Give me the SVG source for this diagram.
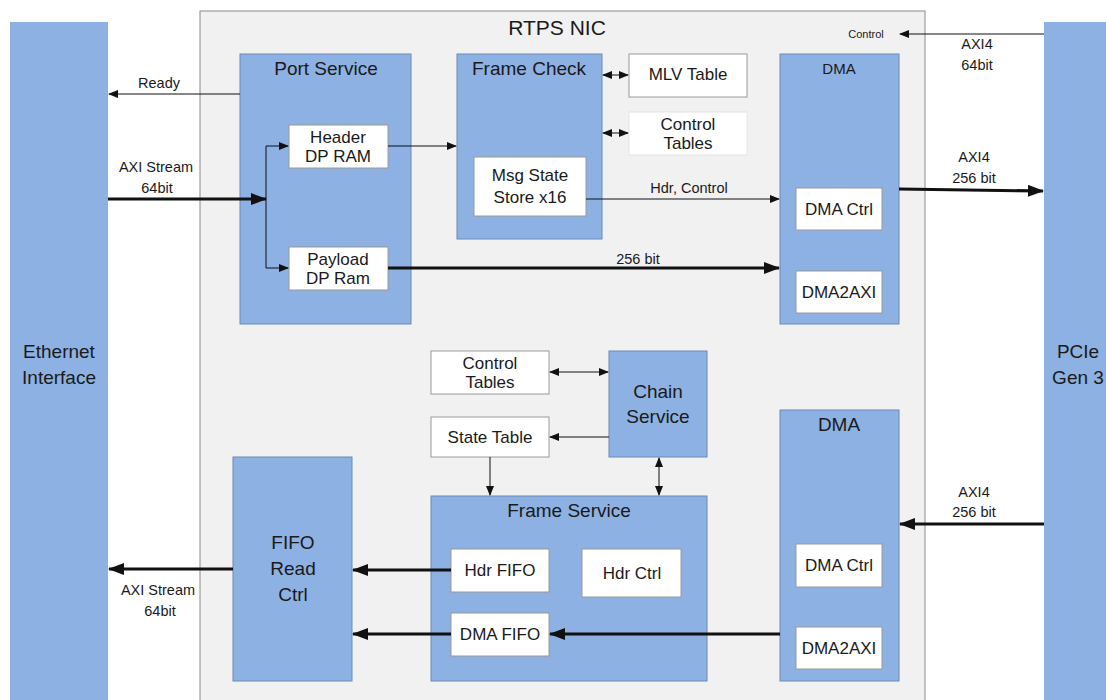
<svg xmlns="http://www.w3.org/2000/svg" width="1106" height="700" viewBox="0 0 1106 700">
<style>
text{font-family:"Liberation Sans",Arial,sans-serif;fill:#1a1a1a;text-anchor:middle}
.bar{fill:#8db1e2}
.blue{fill:#8db1e2;stroke:#6a8ab8;stroke-width:1}
.white{fill:#fff;stroke:#9a9a9a;stroke-width:1}
.nic{fill:#f1f1f1;stroke:#8a8a8a;stroke-width:1}
.t{font-size:19px}
.b{font-size:17px}
.e{font-size:14.5px}
.thin{stroke:#111;stroke-width:1;fill:none}
.thick{stroke:#111;stroke-width:3;fill:none}
</style>
<defs>
<marker id="a" markerWidth="10" markerHeight="8" refX="9" refY="4" orient="auto" markerUnits="userSpaceOnUse"><path d="M0,0 L10,4 L0,8 z" fill="#111"/></marker>
<marker id="as" markerWidth="10" markerHeight="8" refX="1" refY="4" orient="auto" markerUnits="userSpaceOnUse"><path d="M10,0 L0,4 L10,8 z" fill="#111"/></marker>
<marker id="A" markerWidth="16" markerHeight="12" refX="15" refY="6" orient="auto" markerUnits="userSpaceOnUse"><path d="M0,0 L16,6 L0,12 z" fill="#111"/></marker>
</defs>
<rect width="1106" height="700" fill="#fff"/>
<g id="rtps-nic"><rect class="nic" x="200" y="11" width="725" height="700"/><text x="557" y="35" style="font-size:21px">RTPS NIC</text></g>
<g id="ethernet"><rect class="bar" x="10" y="22" width="98" height="690"/><text x="59" y="358" style="font-size:19px">Ethernet</text><text x="59" y="384" style="font-size:19px">Interface</text></g>
<g id="pcie"><rect class="bar" x="1044" y="22" width="70" height="690"/><text x="1078" y="358" style="font-size:19px">PCIe</text><text x="1078" y="384" style="font-size:19px">Gen 3</text></g>
<g id="port-service"><rect class="blue" x="240" y="54" width="171" height="270"/><text class="t" x="326" y="75">Port Service</text></g>
<g id="header-dp-ram"><rect class="white" x="289" y="125" width="99" height="43"/><text class="b" x="338" y="143">Header</text><text class="b" x="338" y="162">DP RAM</text></g>
<g id="payload-dp-ram"><rect class="white" x="289" y="247" width="99" height="43"/><text class="b" x="338" y="265">Payload</text><text class="b" x="338" y="284">DP Ram</text></g>
<g id="frame-check"><rect class="blue" x="457" y="54" width="145" height="185"/><text class="t" x="529" y="75">Frame Check</text></g>
<g id="msg-state-store"><rect class="white" x="474" y="157" width="112" height="59"/><text class="b" x="530" y="181">Msg State</text><text class="b" x="530" y="203">Store x16</text></g>
<g id="mlv-table"><rect class="white" x="629" y="54" width="118" height="43"/><text class="b" x="688" y="80">MLV Table</text></g>
<g id="control-tables-top"><rect x="629" y="112" width="118" height="43" fill="#fff" stroke="#e4e4e4"/><text class="b" x="688" y="130">Control</text><text class="b" x="688" y="149">Tables</text></g>
<g id="dma-top"><rect class="blue" x="780" y="54" width="119" height="270"/><text x="839" y="74" style="font-size:15px">DMA</text></g>
<g id="dma-ctrl-top"><rect class="white" x="796" y="188" width="86" height="42"/><text class="b" x="839" y="215">DMA Ctrl</text></g>
<g id="dma2axi-top"><rect class="white" x="796" y="271" width="86" height="42"/><text class="b" x="839" y="298">DMA2AXI</text></g>
<g id="control-tables-bottom"><rect class="white" x="431" y="351" width="118" height="43"/><text class="b" x="490" y="369">Control</text><text class="b" x="490" y="388">Tables</text></g>
<g id="state-table"><rect class="white" x="431" y="417" width="118" height="40"/><text class="b" x="490" y="443">State Table</text></g>
<g id="chain-service"><rect class="blue" x="609" y="351" width="98" height="106"/><text class="t" x="658" y="398">Chain</text><text class="t" x="658" y="423">Service</text></g>
<g id="frame-service"><rect class="blue" x="431" y="496" width="276" height="185"/><text class="t" x="569" y="517">Frame Service</text></g>
<g id="hdr-fifo"><rect class="white" x="451" y="549" width="98" height="43"/><text class="b" x="500" y="576">Hdr FIFO</text></g>
<g id="hdr-ctrl"><rect class="white" x="582" y="549" width="99" height="48"/><text class="b" x="632" y="579">Hdr Ctrl</text></g>
<g id="dma-fifo"><rect class="white" x="451" y="613" width="98" height="43"/><text class="b" x="500" y="640">DMA FIFO</text></g>
<g id="fifo-read-ctrl"><rect class="blue" x="233" y="457" width="119" height="224"/><text class="t" x="293" y="549">FIFO</text><text class="t" x="293" y="575">Read</text><text class="t" x="293" y="601">Ctrl</text></g>
<g id="dma-bottom"><rect class="blue" x="780" y="410" width="119" height="271"/><text class="t" x="839" y="431">DMA</text></g>
<g id="dma-ctrl-bottom"><rect class="white" x="796" y="544" width="86" height="43"/><text class="b" x="839" y="571">DMA Ctrl</text></g>
<g id="dma2axi-bottom"><rect class="white" x="796" y="627" width="86" height="42"/><text class="b" x="839" y="654">DMA2AXI</text></g>
<g id="connectors">
<line class="thin" x1="240" y1="94" x2="109" y2="94" marker-end="url(#a)"/>
<text class="e" x="159" y="88">Ready</text>
<line class="thick" x1="108" y1="199" x2="266" y2="199" marker-end="url(#A)"/>
<text class="e" x="156" y="172">AXI Stream</text><text class="e" x="157" y="193">64bit</text>
<path class="thin" d="M266,268 V146 H288" marker-end="url(#a)"/>
<line class="thin" x1="266" y1="268" x2="288" y2="268" marker-end="url(#a)"/>
<line class="thin" x1="388" y1="146" x2="456" y2="146" marker-end="url(#a)"/>
<line class="thin" x1="603" y1="75" x2="628" y2="75" marker-start="url(#as)" marker-end="url(#a)"/>
<line class="thin" x1="603" y1="133" x2="628" y2="133" marker-start="url(#as)" marker-end="url(#a)"/>
<line class="thin" x1="586" y1="199" x2="779" y2="199" marker-end="url(#a)"/>
<text class="e" x="689" y="193">Hdr, Control</text>
<line class="thick" x1="388" y1="268" x2="779" y2="268" marker-end="url(#A)"/>
<text class="e" x="638" y="264">256 bit</text>
<line class="thin" x1="1044" y1="34" x2="900" y2="34" marker-end="url(#a)"/>
<text x="866" y="38" style="font-size:11px">Control</text>
<text class="e" x="977" y="49">AXI4</text><text class="e" x="977" y="70">64bit</text>
<line class="thick" x1="899" y1="189" x2="1043" y2="191" marker-end="url(#A)"/>
<text class="e" x="974" y="162">AXI4</text><text class="e" x="974" y="183">256 bit</text>
<line class="thin" x1="550" y1="372" x2="608" y2="372" marker-start="url(#as)" marker-end="url(#a)"/>
<line class="thin" x1="609" y1="437" x2="550" y2="437" marker-end="url(#a)"/>
<line class="thin" x1="490" y1="457" x2="490" y2="495" marker-end="url(#a)"/>
<line class="thin" x1="659" y1="458" x2="659" y2="495" marker-start="url(#as)" marker-end="url(#a)"/>
<line class="thick" x1="1044" y1="524" x2="900" y2="524" marker-end="url(#A)"/>
<text class="e" x="974" y="497">AXI4</text><text class="e" x="974" y="517">256 bit</text>
<line class="thick" x1="780" y1="634" x2="550" y2="634" marker-end="url(#A)"/>
<line class="thick" x1="451" y1="570" x2="353" y2="570" marker-end="url(#A)"/>
<line class="thick" x1="451" y1="634" x2="353" y2="634" marker-end="url(#A)"/>
<line class="thick" x1="233" y1="569" x2="109" y2="569" marker-end="url(#A)"/>
<text class="e" x="158" y="595">AXI Stream</text><text class="e" x="160" y="616">64bit</text>
</g>
</svg>
